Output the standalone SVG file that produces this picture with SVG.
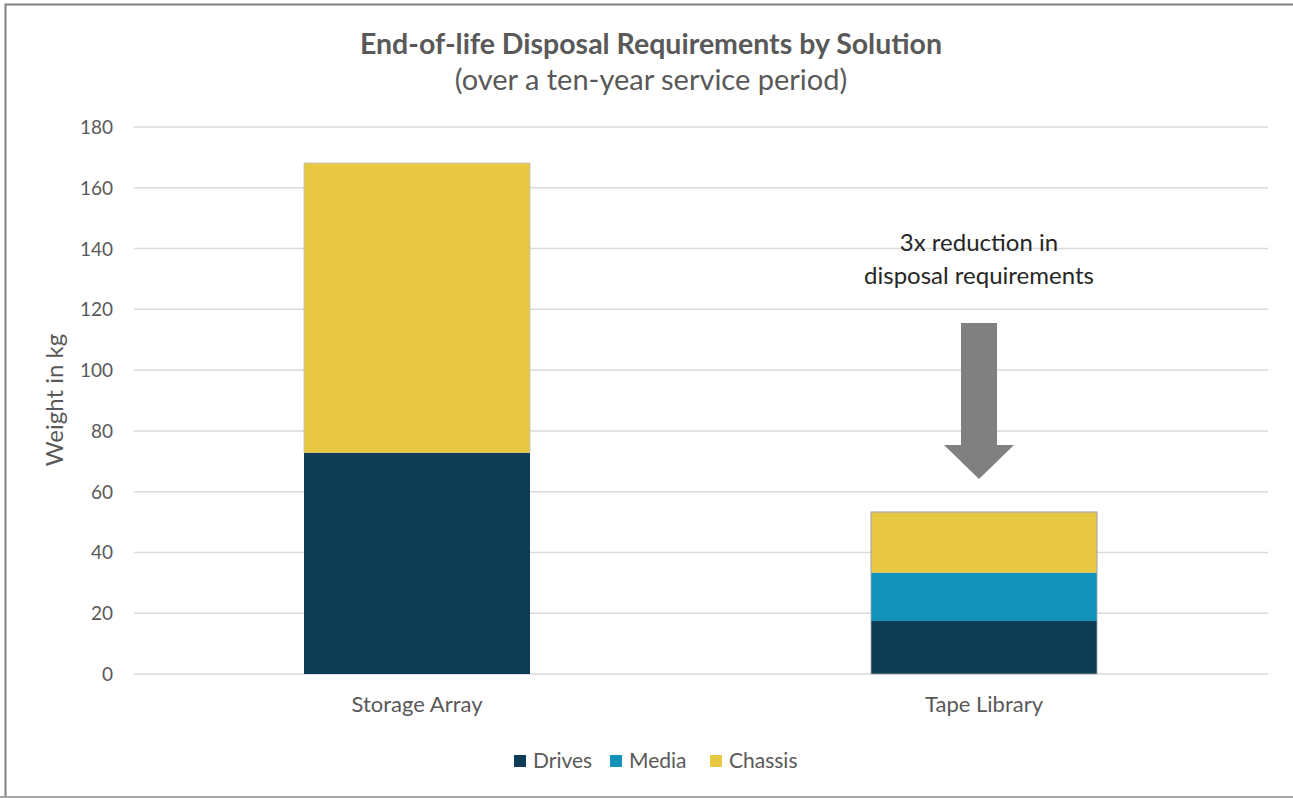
<svg xmlns="http://www.w3.org/2000/svg" width="1293" height="798" viewBox="0 0 1293 798">
  <style>
    .t { font-family: Lato, "Liberation Sans", sans-serif; fill: #595959; }
    .grid { stroke: #D9D9D9; stroke-width: 1.5; }
    .tick { font-size: 19px; text-anchor: end; }
    .cat { font-size: 22px; text-anchor: middle; }
    .leg { font-size: 21px; }
    .note { font-family: Lato, "Liberation Sans", sans-serif; font-size: 24px; fill: #262626; text-anchor: middle; }
    .drives { fill: #0E3C55; }
    .media { fill: #1493BA; }
    .chassis { fill: #E8C743; }
    .bar { stroke: #BFBFBF; stroke-width: 0.8; }
  </style>
  <rect x="0" y="0" width="1293" height="798" fill="#FFFFFF"/>
  <!-- chart frame -->
  <path d="M5.5,798 V4.5 H1293" fill="none" stroke="#7F7F7F" stroke-width="2"/>
  <line x1="0" y1="797" x2="1293" y2="797" stroke="#A6A6A6" stroke-width="2"/>

  <!-- title -->
  <g id="title">
    <text class="t" x="651" y="54" font-size="28.5" font-weight="bold" text-anchor="middle">End-of-life Disposal Requirements by Solution</text>
    <text class="t" x="651" y="90" font-size="29" text-anchor="middle">(over a ten-year service period)</text>
  </g>

  <!-- gridlines and value axis -->
  <g id="axis">
    <line class="grid" x1="134" y1="127" x2="1268" y2="127"/>
    <line class="grid" x1="134" y1="187.8" x2="1268" y2="187.8"/>
    <line class="grid" x1="134" y1="248.6" x2="1268" y2="248.6"/>
    <line class="grid" x1="134" y1="309.3" x2="1268" y2="309.3"/>
    <line class="grid" x1="134" y1="370.1" x2="1268" y2="370.1"/>
    <line class="grid" x1="134" y1="430.9" x2="1268" y2="430.9"/>
    <line class="grid" x1="134" y1="491.7" x2="1268" y2="491.7"/>
    <line class="grid" x1="134" y1="552.4" x2="1268" y2="552.4"/>
    <line class="grid" x1="134" y1="613.2" x2="1268" y2="613.2"/>
    <line class="grid" x1="134" y1="674" x2="1268" y2="674"/>
    <text class="t tick" x="113" y="134">180</text>
    <text class="t tick" x="113" y="194.8">160</text>
    <text class="t tick" x="113" y="255.6">140</text>
    <text class="t tick" x="113" y="316.3">120</text>
    <text class="t tick" x="113" y="377.1">100</text>
    <text class="t tick" x="113" y="437.9">80</text>
    <text class="t tick" x="113" y="498.7">60</text>
    <text class="t tick" x="113" y="559.4">40</text>
    <text class="t tick" x="113" y="620.2">20</text>
    <text class="t tick" x="113" y="681">0</text>
    <text class="t" x="0" y="0" font-size="24" text-anchor="middle" transform="translate(63,400) rotate(-90)">Weight in kg</text>
  </g>

  <!-- stacked bars -->
  <g id="storage-array">
    <rect class="chassis bar" x="304" y="163" width="226" height="290"/>
    <rect class="drives" x="304" y="453" width="226" height="221"/>
    <text class="t cat" x="417" y="712">Storage Array</text>
  </g>
  <g id="tape-library">
    <rect class="chassis bar" x="871" y="512" width="226" height="61"/>
    <rect class="media" x="871" y="573" width="226" height="48"/>
    <rect class="drives" x="871" y="621" width="226" height="53"/>
    <rect x="871" y="512" width="226" height="162" fill="none" stroke="#A6A6A6" stroke-width="0.8"/>
    <text class="t cat" x="984" y="712">Tape Library</text>
  </g>

  <!-- annotation -->
  <g id="annotation">
    <text class="note" x="979" y="251">3x reduction in</text>
    <text class="note" x="979" y="284">disposal requirements</text>
  </g>
  <g id="connectors">
    <polygon points="961,323 997,323 997,445 1014,445 979,479 944,445 961,445" fill="#808080"/>
  </g>

  <!-- legend -->
  <g id="legend">
    <rect class="drives" x="514" y="755" width="12" height="12"/>
    <text class="t leg" x="533" y="768">Drives</text>
    <rect class="media" x="610" y="755" width="12" height="12"/>
    <text class="t leg" x="629" y="768">Media</text>
    <rect class="chassis" x="710" y="755" width="12" height="12"/>
    <text class="t leg" x="729" y="768">Chassis</text>
  </g>
</svg>
